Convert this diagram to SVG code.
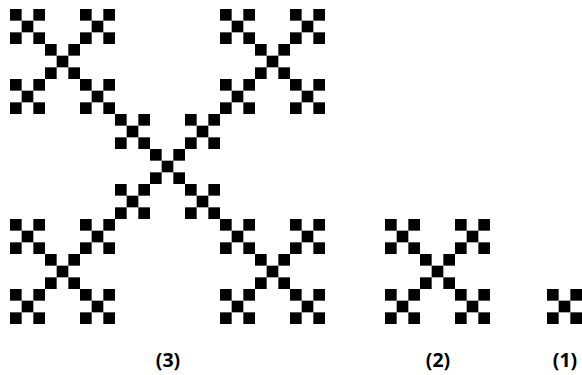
<svg xmlns="http://www.w3.org/2000/svg" xmlns:xlink="http://www.w3.org/1999/xlink" width="582" height="375" viewBox="0 0 582 375">
<style>
.lbl{font-family:"Open Sans","Noto Sans","DejaVu Sans",sans-serif;font-weight:bold;font-size:19.5px;fill:#000;text-anchor:middle}
.sq{fill:#000}
</style>
<defs>
<g id="v1">
<rect class="sq" x="0" y="0" width="1" height="1"/>
<rect class="sq" x="2" y="0" width="1" height="1"/>
<rect class="sq" x="1" y="1" width="1" height="1"/>
<rect class="sq" x="0" y="2" width="1" height="1"/>
<rect class="sq" x="2" y="2" width="1" height="1"/>
</g>
<g id="v2">
<use href="#v1" xlink:href="#v1" x="0" y="0"/>
<use href="#v1" xlink:href="#v1" x="6" y="0"/>
<use href="#v1" xlink:href="#v1" x="3" y="3"/>
<use href="#v1" xlink:href="#v1" x="0" y="6"/>
<use href="#v1" xlink:href="#v1" x="6" y="6"/>
</g>
<g id="v3">
<use href="#v2" xlink:href="#v2" x="0" y="0"/>
<use href="#v2" xlink:href="#v2" x="18" y="0"/>
<use href="#v2" xlink:href="#v2" x="9" y="9"/>
<use href="#v2" xlink:href="#v2" x="0" y="18"/>
<use href="#v2" xlink:href="#v2" x="18" y="18"/>
</g>
</defs>
<g id="level3">
<use href="#v3" xlink:href="#v3" transform="translate(10,9) scale(11.6667)"/>
<text class="lbl" x="168" y="367">(3)</text>
</g>
<g id="level2">
<use href="#v2" xlink:href="#v2" transform="translate(385,219) scale(11.6667)"/>
<text class="lbl" x="438" y="367">(2)</text>
</g>
<g id="level1">
<use href="#v1" xlink:href="#v1" transform="translate(547,289) scale(11.6667)"/>
<text class="lbl" x="565" y="367">(1)</text>
</g>
<g id="connectors"/>
</svg>
